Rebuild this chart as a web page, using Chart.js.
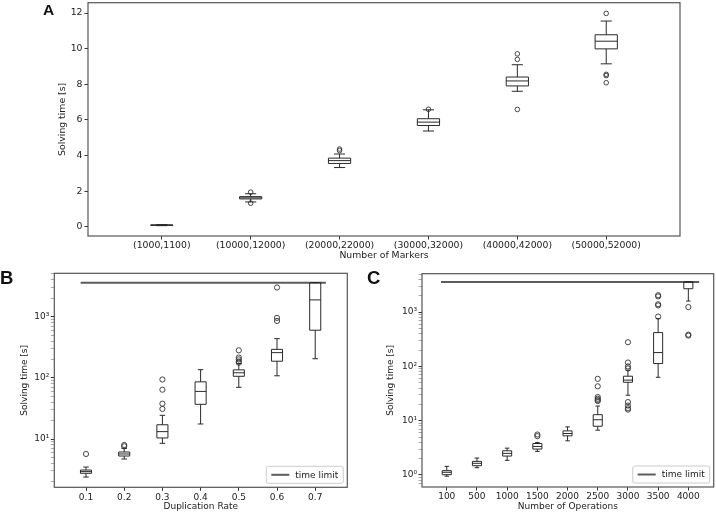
<!DOCTYPE html>
<html>
<head>
<meta charset="utf-8">
<script src="https://cdn.jsdelivr.net/npm/chart.js@4.4.1/dist/chart.umd.min.js"></script>
<style>
  body { margin: 0; background: #fff; width: 716px; height: 513px; position: relative; overflow: hidden; }
  canvas { position: absolute; }
  .tag { position: absolute; font-family: 'Liberation Sans', Arial, sans-serif; font-weight: bold; color: #111; line-height: 1; }
</style>
</head>
<body>
<canvas id="chartA" width="716" height="262" style="left:0;top:0"></canvas>
<canvas id="chartB" width="358" height="251" style="left:0;top:262px"></canvas>
<canvas id="chartC" width="358" height="251" style="left:358px;top:262px"></canvas>
<div class="tag" style="left:43px;top:2px;font-size:15.5px">A</div>
<div class="tag" style="left:0;top:269px;font-size:18.5px">B</div>
<div class="tag" style="left:367px;top:269px;font-size:18.5px">C</div>
<script>
// A: solving time vs number of markers
var markerLabels = ['(1000,1100)', '(10000,12000)', '(20000,22000)', '(30000,32000)', '(40000,42000)', '(50000,52000)'];
var markerLow  = [0.07, 1.40, 3.33, 5.38, 7.61, 9.15];
var markerQ1   = [0.09, 1.57, 3.56, 5.69, 7.91, 9.99];
var markerMed  = [0.10, 1.63, 3.72, 5.88, 8.19, 10.42];
var markerQ3   = [0.11, 1.70, 3.86, 6.07, 8.41, 10.78];
var markerHigh = [0.13, 1.86, 4.09, 6.57, 9.10, 11.55];
var markerOut  = [[], [1.95, 1.33], [4.37, 4.28], [6.60], [9.71, 9.40, 6.59], [11.98, 8.56, 8.49, 8.09]];
var markerTicks = [0, 2, 4, 6, 8, 10, 12];

// B: solving time vs duplication rate
var dupLabels = ['0.1', '0.2', '0.3', '0.4', '0.5', '0.6', '0.7'];
var dupLow  = [2.39, 4.71, 8.5, 17.6, 70, 108, 205];
var dupQ1   = [2.75, 5.27, 10.4, 36.9, 106, 187, 600];
var dupMed  = [2.93, 5.69, 13.2, 60, 121, 258, 1880];
var dupQ3   = [3.11, 6.13, 17.1, 86, 135, 292, 3600];
var dupHigh = [3.48, 7.03, 24.4, 136, 172, 437, 3600];
var dupOut  = [[5.69], [7.98, 7.6], [94, 64, 37.8, 31], [], [282, 215, 200, 185, 177], [3000, 955, 850], []];
var dupTicks = [10, 100, 1000];
var dupLimitX = [0.86, 7.28];

// C: solving time vs number of operations
var opsLabels = ['100', '500', '1000', '1500', '2000', '2500', '3000', '3500', '4000'];
var opsLow  = [0.95, 1.36, 1.86, 2.72, 4.26, 6.68, 29.5, 63, 1600];
var opsQ1   = [1.01, 1.48, 2.23, 3.0, 5.26, 7.9, 51, 113, 2700];
var opsMed  = [1.12, 1.64, 2.5, 3.35, 5.8, 10.4, 56, 180, 3600];
var opsQ3   = [1.2, 1.78, 2.79, 3.8, 6.49, 12.9, 66, 420, 3600];
var opsHigh = [1.44, 2.05, 3.12, 3.97, 7.69, 18.6, 85, 760, 3600];
var opsOut  = [[], [], [], [5.56, 5.19], [], [59, 43, 27.3, 25.4, 24, 23], [279, 118, 100, 92, 22, 19, 17, 16], [2050, 1950, 1400, 1330, 830], [1240, 385, 370]];
var opsTicks = [1, 10, 100, 1000];
var opsLimitX = [0.81, 9.36];

var timeLimit = 3600;

Chart.defaults.font.family = "'DejaVu Sans', sans-serif";
Chart.defaults.color = '#222';
Chart.defaults.animation = false;

var sup = ['\u2070', '\u00b9', '\u00b2', '\u00b3', '\u2074'];

// box + whiskers, drawn through the chart scales
var boxPlugin = {
  id: 'boxes',
  afterDatasetsDraw: function (chart, args, o) {
    var x = chart.scales.x, y = chart.scales.y, ctx = chart.ctx;
    ctx.save();
    ctx.strokeStyle = '#2a2a2a';
    ctx.lineWidth = 1;
    for (var i = 0; i < o.med.length; i++) {
      var p = i + 1;
      var l = x.getPixelForValue(p - o.width / 2), r = x.getPixelForValue(p + o.width / 2);
      var cl = x.getPixelForValue(p - o.width / 4), cr = x.getPixelForValue(p + o.width / 4);
      var c = x.getPixelForValue(p);
      var lo = y.getPixelForValue(o.low[i]), q1 = y.getPixelForValue(o.q1[i]);
      var md = y.getPixelForValue(o.med[i]), q3 = y.getPixelForValue(o.q3[i]);
      var hi = y.getPixelForValue(o.high[i]);
      ctx.beginPath();
      ctx.rect(l, q3, r - l, q1 - q3);
      ctx.moveTo(l, md); ctx.lineTo(r, md);
      ctx.moveTo(c, q1); ctx.lineTo(c, lo);
      ctx.moveTo(c, q3); ctx.lineTo(c, hi);
      ctx.moveTo(cl, lo); ctx.lineTo(cr, lo);
      ctx.moveTo(cl, hi); ctx.lineTo(cr, hi);
      ctx.stroke();
    }
    ctx.restore();
  }
};

// full frame around the plot + small legend in the lower right corner
var framePlugin = {
  id: 'frame',
  afterDraw: function (chart) {
    var a = chart.chartArea, ctx = chart.ctx;
    ctx.save();
    ctx.strokeStyle = '#555';
    ctx.lineWidth = 1.2;
    ctx.strokeRect(a.left, a.top, a.right - a.left, a.bottom - a.top);
    var ds = chart.data.datasets.filter(function (d) { return d.label; })[0];
    if (ds) {
      ctx.font = '9px "DejaVu Sans"';
      var tw = ctx.measureText(ds.label).width;
      var w = 5 + 18 + 6 + tw + 5, h = 17;
      var bx = a.right - 4 - w, by = a.bottom - 4 - h;
      ctx.fillStyle = 'rgba(255,255,255,0.85)';
      ctx.strokeStyle = '#ccc';
      ctx.lineWidth = 1;
      ctx.beginPath();
      ctx.roundRect(bx, by, w, h, 2);
      ctx.fill();
      ctx.stroke();
      ctx.strokeStyle = ds.borderColor;
      ctx.lineWidth = ds.borderWidth;
      ctx.beginPath();
      ctx.moveTo(bx + 5, by + h / 2);
      ctx.lineTo(bx + 23, by + h / 2);
      ctx.stroke();
      ctx.fillStyle = '#222';
      ctx.textBaseline = 'middle';
      ctx.fillText(ds.label, bx + 29, by + h / 2 + 0.5);
    }
    ctx.restore();
  }
};

function outlierPoints(out) {
  var pts = [];
  out.forEach(function (vals, i) {
    vals.forEach(function (v) { pts.push({ x: i + 1, y: v }); });
  });
  return pts;
}

function makePanel(id, c) {
  var datasets = [{
    data: outlierPoints(c.out),
    pointStyle: 'circle',
    pointRadius: c.radius,
    pointBorderColor: '#333',
    pointBackgroundColor: 'rgba(0,0,0,0)',
    pointBorderWidth: 0.9
  }];
  if (c.limitX) {
    datasets.push({
      type: 'line',
      label: 'time limit',
      data: [{ x: c.limitX[0], y: timeLimit }, { x: c.limitX[1], y: timeLimit }],
      borderColor: '#5c5c5c',
      borderWidth: 2,
      pointRadius: 0
    });
  }

  var yScale = {
    type: c.log ? 'logarithmic' : 'linear',
    min: c.yMin,
    max: c.yMax,
    afterBuildTicks: function (s) {
      if (!c.log) {
        s.ticks = c.yTicks.map(function (v) { return { value: v, major: true }; });
        return;
      }
      var t = [];
      for (var k = Math.floor(Math.log10(c.yMin)); Math.pow(10, k) <= c.yMax; k++) {
        var d = Math.pow(10, k);
        for (var m = 1; m < 10; m++) {
          var v = m * d;
          if (v >= c.yMin && v <= c.yMax) t.push({ value: v, major: c.yTicks.indexOf(v) >= 0 });
        }
      }
      s.ticks = t;
    },
    afterFit: function (s) { s.width = c.yWidth; s.paddingTop = 0; s.paddingBottom = 0; },
    ticks: {
      autoSkip: false,
      padding: c.log ? 1.5 : 2,
      font: { size: c.font },
      callback: function (v, i, ticks) {
        if (!ticks[i].major) return '';
        return c.log ? '10' + sup[Math.round(Math.log10(v))] : String(v);
      }
    },
    grid: {
      drawOnChartArea: false,
      drawTicks: true,
      tickLength: 3.5,
      tickColor: function (ctx) { return ctx.tick && ctx.tick.major ? '#333' : '#888'; },
      tickWidth: function (ctx) { return ctx.tick && ctx.tick.major ? 1 : 0.7; }
    },
    border: { display: false },
    title: {
      display: true,
      text: 'Solving time [s]',
      font: { size: c.font },
      padding: { top: c.yTitlePad, bottom: 0 }
    }
  };

  return new Chart(document.getElementById(id), {
    type: 'scatter',
    data: { datasets: datasets },
    options: {
      responsive: false,
      animation: false,
      layout: { padding: c.padding, autoPadding: false },
      plugins: {
        legend: { display: false },
        tooltip: { enabled: false },
        boxes: { width: c.boxWidth, low: c.low, q1: c.q1, med: c.med, q3: c.q3, high: c.high }
      },
      scales: {
        x: {
          type: 'linear',
          min: c.xMin,
          max: c.xMax,
          afterBuildTicks: function (s) {
            s.ticks = c.labels.map(function (l, i) { return { value: i + 1 }; });
          },
          afterFit: function (s) { s.height = c.xHeight; s.paddingLeft = 0; s.paddingRight = 0; },
          ticks: {
            autoSkip: false,
            maxRotation: 0,
            padding: 1,
            font: { size: c.font },
            callback: function (v, i) { return c.labels[i]; }
          },
          grid: { drawOnChartArea: false, drawTicks: true, tickLength: 3.5, tickColor: '#333' },
          border: { display: false },
          title: {
            display: true,
            text: c.xTitle,
            font: { size: c.font },
            padding: { top: 0, bottom: c.xTitlePad }
          }
        },
        y: yScale
      }
    },
    plugins: [boxPlugin, framePlugin]
  });
}

makePanel('chartA', {
  labels: markerLabels, low: markerLow, q1: markerQ1, med: markerMed, q3: markerQ3, high: markerHigh,
  out: markerOut, yTicks: markerTicks, log: false, yMin: -0.51, yMax: 12.58,
  xMin: 0.17, xMax: 6.83, boxWidth: 0.25, radius: 2.3, font: 9.3,
  xTitle: 'Number of Markers', padding: { left: 0, top: 2.7, right: 36, bottom: 0 },
  yWidth: 88, xHeight: 26, yTitlePad: 57.4, xTitlePad: 0.4
});

makePanel('chartB', {
  labels: dupLabels, low: dupLow, q1: dupQ1, med: dupMed, q3: dupQ3, high: dupHigh,
  out: dupOut, yTicks: dupTicks, log: true, yMin: 1.624, yMax: 5115, limitX: dupLimitX,
  xMin: 0.17, xMax: 7.84, boxWidth: 0.29, radius: 2.6, font: 9,
  xTitle: 'Duplication Rate', padding: { left: 0, top: 11.3, right: 10.7, bottom: 0 },
  yWidth: 54.3, xHeight: 25.7, yTitlePad: 19.6, xTitlePad: 0.9
});

makePanel('chartC', {
  labels: opsLabels, low: opsLow, q1: opsQ1, med: opsMed, q3: opsQ3, high: opsHigh,
  out: opsOut, yTicks: opsTicks, log: true, yMin: 0.629, yMax: 5110, limitX: opsLimitX,
  xMin: 0.18, xMax: 9.84, boxWidth: 0.3, radius: 2.6, font: 9,
  xTitle: 'Number of Operations', padding: { left: 0, top: 11.7, right: 2.3, bottom: 0 },
  yWidth: 64, xHeight: 26, yTitlePad: 27.6, xTitlePad: 0.9
});
</script>
</body>
</html>
